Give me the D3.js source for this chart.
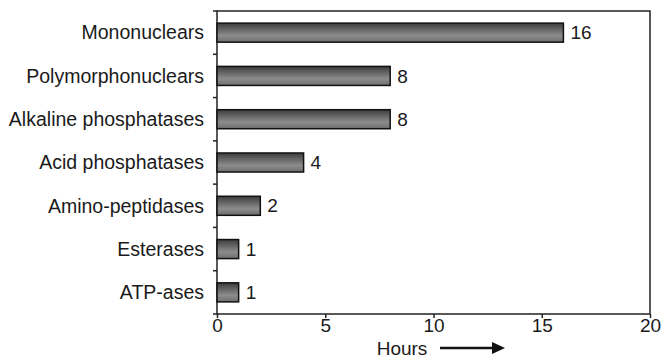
<!DOCTYPE html>
<meta charset="utf-8">
<style>
  body { margin: 0; background: #fff; }
  text { font-family: "Liberation Sans", Arial, sans-serif; fill: #1a1a1a; }
  .axis path, .axis line { stroke: #222; stroke-width: 1.5; }
</style>
<svg width="663" height="358"></svg>
<script src="https://d3js.org/d3.v7.min.js"></script>
<script>

// data
var categories = ['Mononuclears', 'Polymorphonuclears', 'Alkaline phosphatases',
                  'Acid phosphatases', 'Amino-peptidases', 'Esterases', 'ATP-ases'];
var hours = [16, 8, 8, 4, 2, 1, 1];
var xTicks = [0, 5, 10, 15, 20];

var svg = d3.select('svg');
var margin = {top: 11, right: 13, bottom: 44, left: 217};
var width = 663 - margin.left - margin.right;
var height = 358 - margin.top - margin.bottom;

// bar gradient
var grad = svg.append('defs').append('linearGradient')
    .attr('id', 'barGrad').attr('x1', 0).attr('y1', 0).attr('x2', 0).attr('y2', 1);
grad.append('stop').attr('offset', '0%').attr('stop-color', '#3c3c3c');
grad.append('stop').attr('offset', '65%').attr('stop-color', '#8c8c8c');
grad.append('stop').attr('offset', '100%').attr('stop-color', '#6e6e6e');

var g = svg.append('g').attr('transform', 'translate(' + margin.left + ',' + margin.top + ')');

var x = d3.scaleLinear().domain([0, 20]).range([0, width]);
var y = d3.scaleBand().domain(categories).range([0, height]).paddingInner(0.56).paddingOuter(0.28);

// frame
g.append('rect')
    .attr('width', width).attr('height', height)
    .attr('fill', 'none').attr('stroke', '#222').attr('stroke-width', 1.5);

// category band boundary ticks on left
var step = height / categories.length;
g.selectAll('.ytick')
    .data(d3.range(categories.length + 1))
    .enter().append('line')
    .attr('x1', -4).attr('x2', 0)
    .attr('y1', function(i) { return i * step; })
    .attr('y2', function(i) { return i * step; })
    .attr('stroke', '#222').attr('stroke-width', 1.5);

// category labels
g.selectAll('.cat')
    .data(categories)
    .enter().append('text')
    .attr('x', -13)
    .attr('y', function(d) { return y(d) + y.bandwidth() / 2; })
    .attr('dy', '0.35em')
    .attr('text-anchor', 'end')
    .style('font-size', '19.5px')
    .text(function(d) { return d; });

// x axis
var xAxis = g.append('g')
    .attr('class', 'axis')
    .attr('transform', 'translate(0,' + height + ')')
    .call(d3.axisBottom(x).tickValues(xTicks).tickSize(4).tickPadding(1).tickSizeOuter(0));
xAxis.select('.domain').remove();
xAxis.selectAll('text').style('font-size', '19px').style('fill', '#1a1a1a');

// bars
g.selectAll('.bar')
    .data(hours)
    .enter().append('rect')
    .attr('x', x(0))
    .attr('y', function(d, i) { return y(categories[i]); })
    .attr('width', function(d) { return x(d) - x(0); })
    .attr('height', y.bandwidth())
    .attr('fill', 'url(#barGrad)')
    .attr('stroke', '#111').attr('stroke-width', 1.5);

// value labels
g.selectAll('.val')
    .data(hours)
    .enter().append('text')
    .attr('x', function(d) { return x(d) + 7; })
    .attr('y', function(d, i) { return y(categories[i]) + y.bandwidth() / 2; })
    .attr('dy', '0.35em')
    .style('font-size', '19px')
    .text(function(d) { return d; });

// x label with arrow
svg.append('text')
    .attr('x', 402).attr('y', 355)
    .attr('text-anchor', 'middle')
    .style('font-size', '19px')
    .text('Hours');
svg.append('line')
    .attr('x1', 440).attr('x2', 494).attr('y1', 348).attr('y2', 348)
    .attr('stroke', '#111').attr('stroke-width', 2.5);
svg.append('path')
    .attr('d', 'M492,342 L505,348 L492,354 Z')
    .attr('fill', '#111');

</script>
